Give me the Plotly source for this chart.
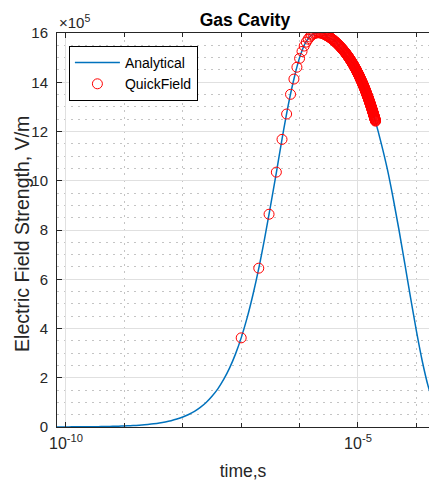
import numpy as np
import plotly.graph_objects as go

# Analytical curve: log10(time, s) and field strength (x1e5 V/m)
log_t_analytical = [
    -10.2, -10.1, -10.0, -9.9, -9.8, -9.7, -9.6, -9.5, -9.4, -9.3,
    -9.2, -9.1, -9.0, -8.9, -8.8, -8.7, -8.6, -8.5, -8.4, -8.3,
    -8.2, -8.1, -8.0, -7.9, -7.8, -7.7, -7.6, -7.5, -7.4, -7.3,
    -7.2, -7.1, -7.0, -6.9, -6.8, -6.7, -6.6, -6.5, -6.4, -6.3,
    -6.2, -6.1, -6.0, -5.9, -5.8, -5.7, -5.6, -5.5, -5.4, -5.3,
    -5.2, -5.1, -5.0, -4.9, -4.8, -4.7, -4.6, -4.5, -4.4, -4.3,
    -4.2, -4.1, -4.0, -3.9, -3.8, -3.7,
]
e_analytical = [
    0.00258, 0.00325, 0.00409, 0.00515, 0.00649, 0.00817, 0.0103, 0.0129, 0.0163, 0.0205,
    0.0258, 0.0325, 0.0409, 0.0515, 0.0648, 0.0815, 0.103, 0.129, 0.162, 0.204,
    0.256, 0.322, 0.404, 0.508, 0.636, 0.797, 0.997, 1.25, 1.55, 1.93,
    2.39, 2.95, 3.62, 4.42, 5.36, 6.43, 7.64, 8.95, 10.3, 11.7,
    13.0, 14.1, 15.0, 15.6, 15.9, 16.0, 16.0, 15.8, 15.7, 15.4,
    15.1, 14.8, 14.4, 13.8, 13.2, 12.4, 11.5, 10.5, 9.32, 8.03,
    6.65, 5.25, 3.9, 2.68, 1.67, 0.921,
]

# QuickField results: time (microseconds) and field strength (x1e5 V/m)
t_quickfield_us = [
    0.1, 0.2, 0.3, 0.4, 0.5, 0.6, 0.7, 0.8, 0.9, 1.0,
    1.1, 1.2, 1.3, 1.4, 1.5, 1.6, 1.7, 1.8, 1.9, 2.0,
    2.1, 2.2, 2.3, 2.4, 2.5, 2.6, 2.7, 2.8, 2.9, 3.0,
    3.1, 3.2, 3.3, 3.4, 3.5, 3.6, 3.7, 3.8, 3.9, 4.0,
    4.1, 4.2, 4.3, 4.4, 4.5, 4.6, 4.7, 4.8, 4.9, 5.0,
    5.1, 5.2, 5.3, 5.4, 5.5, 5.6, 5.7, 5.8, 5.9, 6.0,
    6.1, 6.2, 6.3, 6.4, 6.5, 6.6, 6.7, 6.8, 6.9, 7.0,
    7.1, 7.2, 7.3, 7.4, 7.5, 7.6, 7.7, 7.8, 7.9, 8.0,
    8.1, 8.2, 8.3, 8.4, 8.5, 8.6, 8.7, 8.8, 8.9, 9.0,
    9.1, 9.2, 9.3, 9.4, 9.5, 9.6, 9.7, 9.8, 9.9, 10.0,
    10.1, 10.2, 10.3, 10.4, 10.5, 10.6, 10.7, 10.8, 10.9, 11.0,
    11.1, 11.2, 11.3, 11.4, 11.5, 11.6, 11.7, 11.8, 11.9, 12.0,
    12.1, 12.2, 12.3, 12.4, 12.5, 12.6, 12.7, 12.8, 12.9, 13.0,
    13.1, 13.2, 13.3, 13.4, 13.5, 13.6, 13.7, 13.8, 13.9, 14.0,
    14.1, 14.2, 14.3, 14.4, 14.5, 14.6, 14.7, 14.8, 14.9, 15.0,
    15.1, 15.2, 15.3, 15.4, 15.5, 15.6, 15.7, 15.8, 15.9, 16.0,
    16.1, 16.2, 16.3, 16.4, 16.5, 16.6, 16.7, 16.8, 16.9, 17.0,
    17.1, 17.2, 17.3, 17.4, 17.5, 17.6, 17.7, 17.8, 17.9, 18.0,
    18.1, 18.2, 18.3, 18.4, 18.5, 18.6, 18.7, 18.8, 18.9, 19.0,
    19.1, 19.2, 19.3, 19.4, 19.5, 19.6, 19.7, 19.8, 19.9, 20.0,
]
e_quickfield = [
    3.62, 6.45, 8.64, 10.35, 11.68, 12.71, 13.51, 14.13, 14.61, 14.97,
    15.25, 15.47, 15.63, 15.75, 15.84, 15.91, 15.95, 15.98, 16.00, 16.01,
    16.01, 16.01, 16.00, 15.99, 15.98, 15.96, 15.94, 15.92, 15.90, 15.88,
    15.86, 15.84, 15.82, 15.80, 15.78, 15.75, 15.73, 15.71, 15.69, 15.66,
    15.64, 15.62, 15.60, 15.57, 15.55, 15.53, 15.51, 15.48, 15.46, 15.44,
    15.42, 15.39, 15.37, 15.35, 15.33, 15.31, 15.28, 15.26, 15.24, 15.22,
    15.20, 15.17, 15.15, 15.13, 15.11, 15.09, 15.06, 15.04, 15.02, 15.00,
    14.98, 14.96, 14.93, 14.91, 14.89, 14.87, 14.85, 14.83, 14.80, 14.78,
    14.76, 14.74, 14.72, 14.70, 14.68, 14.65, 14.63, 14.61, 14.59, 14.57,
    14.55, 14.53, 14.51, 14.49, 14.46, 14.44, 14.42, 14.40, 14.38, 14.36,
    14.34, 14.32, 14.30, 14.28, 14.26, 14.24, 14.22, 14.19, 14.17, 14.15,
    14.13, 14.11, 14.09, 14.07, 14.05, 14.03, 14.01, 13.99, 13.97, 13.95,
    13.93, 13.91, 13.89, 13.87, 13.85, 13.83, 13.81, 13.79, 13.77, 13.75,
    13.73, 13.71, 13.69, 13.67, 13.65, 13.63, 13.61, 13.59, 13.57, 13.55,
    13.53, 13.51, 13.49, 13.47, 13.45, 13.43, 13.41, 13.40, 13.38, 13.36,
    13.34, 13.32, 13.30, 13.28, 13.26, 13.24, 13.22, 13.20, 13.18, 13.16,
    13.15, 13.13, 13.11, 13.09, 13.07, 13.05, 13.03, 13.01, 12.99, 12.98,
    12.96, 12.94, 12.92, 12.90, 12.88, 12.86, 12.84, 12.83, 12.81, 12.79,
    12.77, 12.75, 12.73, 12.71, 12.70, 12.68, 12.66, 12.64, 12.62, 12.60,
    12.59, 12.57, 12.55, 12.53, 12.51, 12.50, 12.48, 12.46, 12.44, 12.42,
]

x_tickvals = [1e-10, 1e-5]
x_ticktext = ["10<sup>-10</sup>", "10<sup>-5</sup>"]
x_minorvals = [1e-9, 1e-8, 1e-7, 1e-6, 1e-4]
y_tickvals = [0, 2, 4, 6, 8, 10, 12, 14, 16]

t_analytical = [10 ** k for k in log_t_analytical]
t_quickfield = [t * 1e-6 for t in t_quickfield_us]

FONT = "Liberation Sans, Arial, sans-serif"
TXT = "#262626"
GRID = "#e0e0e0"
MINOR = "#c4c4c4"

fig = go.Figure()
fig.add_trace(go.Scatter(
    x=t_analytical, y=e_analytical, mode="lines", name="Analytical",
    line=dict(color="#0072BD", width=1.5, shape="spline"),
))
fig.add_trace(go.Scatter(
    x=t_quickfield, y=e_quickfield, mode="markers", name="QuickField",
    marker=dict(symbol="circle-open", size=10, color="#FF0000", line=dict(width=1)),
))

fig.update_layout(
    width=429, height=481,
    margin=dict(l=57, r=0, t=33, b=54),
    paper_bgcolor="white", plot_bgcolor="white",
    font=dict(family=FONT, size=15, color=TXT),
    title=dict(text="<b>Gas Cavity</b>", x=0.571, xanchor="center", y=0.958, yanchor="middle",
               font=dict(size=17.5, color="black")),
    legend=dict(x=0.032, y=0.967, xanchor="left", yanchor="top",
                bgcolor="white", bordercolor="black", borderwidth=1,
                font=dict(size=14, color="black"), itemwidth=45,
                tracegroupgap=0),
    showlegend=True,
)
fig.update_xaxes(
    type="log", range=[-10.154, -3.784],
    tickvals=x_tickvals, ticktext=x_ticktext,
    ticks="inside", ticklen=5, tickcolor=TXT,
    showline=True, linecolor=TXT, linewidth=1, mirror="ticks",
    showgrid=True, gridcolor=GRID, gridwidth=1, zeroline=False,
    minor=dict(tickvals=x_minorvals, ticks="inside", ticklen=4, tickcolor=TXT,
               showgrid=True, gridcolor=MINOR, griddash="2px,5px", gridwidth=1),
    title=dict(text="time,s", font=dict(size=17.5, color=TXT), standoff=13),
    tickfont=dict(size=16, color=TXT), ticklabelstandoff=2,
)
fig.update_yaxes(
    range=[0, 16], tickvals=y_tickvals,
    ticks="inside", ticklen=5, tickcolor=TXT,
    showline=True, linecolor=TXT, linewidth=1, mirror=False,
    showgrid=True, gridcolor=GRID, gridwidth=1, zeroline=False,
    minor=dict(dtick=0.5, ticks="", showgrid=True, gridcolor=MINOR,
               griddash="2px,5px", gridwidth=1),
    tickfont=dict(size=15, color=TXT), ticklabelstandoff=5,
)
# y label as a rotated annotation so it can sit exactly where MATLAB puts it
fig.add_annotation(
    text="Electric Field Strength, V/m", xref="paper", yref="paper", x=0.0, y=0.49,
    xshift=-35, xanchor="center", yanchor="middle", textangle=-90, showarrow=False,
    font=dict(size=19.5, color=TXT),
)
fig.add_annotation(
    text="\u00d710<sup>5</sup>", xref="paper", yref="paper", x=0.0, y=1.0,
    xanchor="left", yanchor="bottom", showarrow=False,
    font=dict(size=15, color=TXT),
)

# drop the default 8px page margin so the figure fills the window exactly
fig.write_html("out.html", config={"displayModeBar": False},
               post_script="document.body.style.margin='0';")
